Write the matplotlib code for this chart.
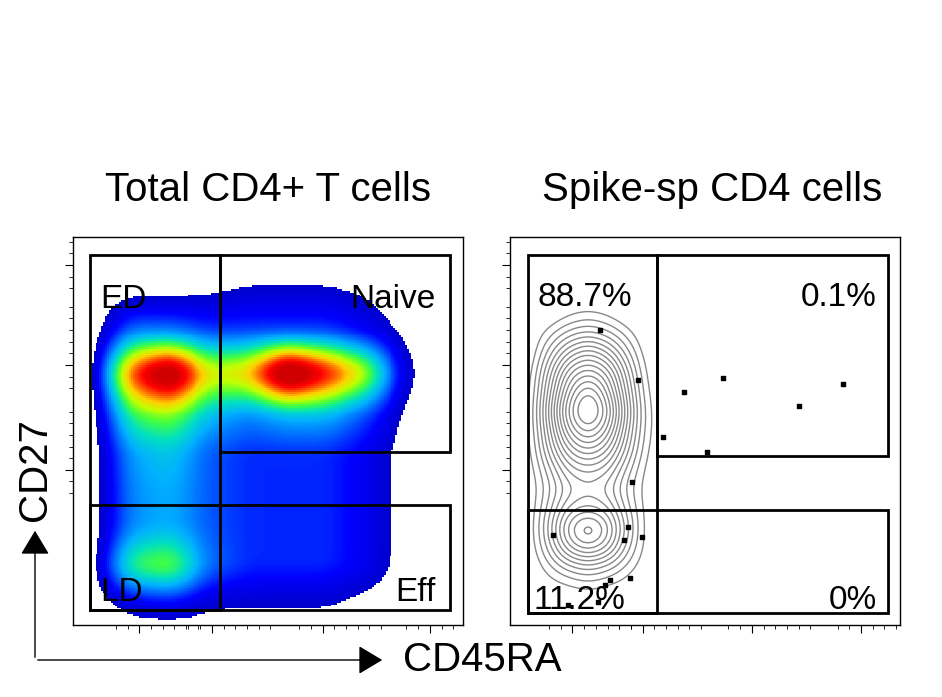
import numpy as np
import matplotlib
matplotlib.use("Agg")
import matplotlib.pyplot as plt
from matplotlib.patches import Rectangle, FancyArrowPatch
from matplotlib.colors import LinearSegmentedColormap

plt.rcParams["font.family"] = "Liberation Sans"

# Left panel: estimated density levels (rows top->bottom, y 95..5; cols x 5..95)
left_density = np.array([
    [0, 0, 0, 0, 0, 0, 0, 0, 0, 0],
    [0, 0.3, 0.3, 0.4, 0.6, 0.6, 0.6, 0.4, 0, 0],
    [0, 2, 2, 1.5, 1.5, 1.5, 1.5, 1, 0.3, 0],
    [0, 6, 8, 4.5, 5, 8.5, 6.5, 4.5, 0.6, 0],
    [0, 3.5, 4, 2.5, 2, 2.5, 2.5, 1.6, 0.3, 0],
    [0, 2.2, 2.6, 1.6, 1.3, 1.3, 1.3, 0.9, 0.2, 0],
    [0, 2, 2.3, 1.6, 1.3, 1.3, 1.3, 0.9, 0.2, 0],
    [0, 2, 2.3, 1.6, 1.3, 1.3, 1.3, 0.9, 0.2, 0],
    [0, 3.5, 4, 1.8, 1.3, 1.3, 1.3, 0.9, 0.2, 0],
    [0, 0.5, 0.7, 0.4, 0.4, 0.4, 0.4, 0.2, 0, 0],
])
left_cx = [5, 15, 25, 35, 45, 55, 65, 75, 85, 95]
left_cy = [95, 85, 75, 65, 55, 45, 35, 25, 15, 5]

# Right panel: estimated contour density (rows y 90..0 step 5; cols x 0..45 step 5)
right_x = [0, 5, 10, 15, 20, 25, 30, 35, 40, 45]
right_y = [90, 85, 80, 75, 70, 65, 60, 55, 50, 45, 40, 35, 30, 25, 20, 15, 10, 5, 0]
right_density = np.array([
    [0, 0, 0, 0, 0, 0, 0, 0, 0, 0],
    [0, 0, 0, 0, 0, 0, 0, 0, 0, 0],
    [0, 0, 0, 0.5, 0.8, 0.5, 0, 0, 0, 0],
    [0, 0, 1, 2, 2.5, 2, 1, 0, 0, 0],
    [0, 0, 2, 4, 5, 4, 2, 0.2, 0, 0],
    [0, 0.2, 3, 6, 7, 6, 3, 0.4, 0, 0],
    [0, 0.3, 3.5, 7, 9, 7, 3.5, 0.6, 0, 0],
    [0, 0.4, 4, 8, 10, 8, 4, 0.8, 0, 0],
    [0, 0.4, 3.5, 7, 8.5, 7, 3.5, 0.8, 0, 0],
    [0, 0.3, 3, 5.5, 6.5, 5.5, 3, 0.6, 0, 0],
    [0, 0.2, 2, 4, 4.5, 4, 2, 0.4, 0, 0],
    [0, 0.1, 1.5, 3, 3.5, 3, 1.5, 0.3, 0, 0],
    [0, 0.1, 2, 4, 4.5, 4, 2, 0.3, 0, 0],
    [0, 0.1, 2.5, 5.5, 7, 5.5, 2.5, 0.3, 0, 0],
    [0, 0.1, 2, 4.5, 5.5, 4.5, 2, 0.3, 0, 0],
    [0, 0, 1, 2, 2.5, 2, 1, 0.2, 0, 0],
    [0, 0, 0.3, 0.5, 0.8, 0.5, 0.3, 0, 0, 0],
    [0, 0, 0, 0, 0, 0, 0, 0, 0, 0],
    [0, 0, 0, 0, 0, 0, 0, 0, 0, 0],
])

outlier_x = [23.1, 32.8, 44.6, 54.6, 74.1, 85.4, 39.2, 50.5, 31.3, 30.3, 33.8, 29.2, 11.0, 30.8, 25.6, 24.4, 14.9, 22.6]
outlier_y = [76.0, 63.1, 60.1, 63.7, 56.4, 62.1, 48.5, 44.6, 36.9, 25.3, 22.7, 21.9, 23.2, 12.1, 11.6, 10.3, 5.2, 5.9]

titles = ["Total CD4+ T cells", "Spike-sp CD4 cells"]
left_labels = [("ED", 7, 84, "left"), ("Naive", 93, 84, "right"), ("LD", 7, 8.5, "left"), ("Eff", 93, 8.5, "right")]
right_labels = [("88.7%", 7, 84.5, "left"), ("0.1%", 94, 84.5, "right"), ("11.2%", 6, 6.4, "left"), ("0%", 94, 6.4, "right")]


def upsample(z, xs, ys, nx, ny, x0, x1, y0, y1):
    xs = np.asarray(xs, float); ys = np.asarray(ys, float)
    order = np.argsort(ys)
    z = np.asarray(z, float)[order]; ys = ys[order]
    gx = np.linspace(x0, x1, nx); gy = np.linspace(y0, y1, ny)
    tmp = np.array([np.interp(gx, xs, row) for row in z])
    out = np.array([np.interp(gy, ys, tmp[:, j]) for j in range(nx)]).T
    k = np.ones(9) / 9
    for _ in range(3):
        out = np.apply_along_axis(lambda r: np.convolve(r, k, mode="same"), 1, out)
        out = np.apply_along_axis(lambda c: np.convolve(c, k, mode="same"), 0, out)
    return gx, gy, out


fig = plt.figure(figsize=(9.42, 6.97), dpi=100)
axL = fig.add_axes([73/942, 1-625/697, 390/942, 388/697])
axR = fig.add_axes([510/942, 1-625/697, 390/942, 388/697])


def style(ax, xmaj, ymaj):
    ax.set_xlim(0, 100); ax.set_ylim(0, 100)
    ax.set_xticks(xmaj); ax.set_yticks(ymaj)
    xmin = [v + d for v in xmaj for d in (-6, -3, 3, 6, 9, 12, 15) if 0 < v + d < 100]
    ymin = [v + d for v in ymaj for d in (-6, -3, 3, 6, 9, 12, 15) if 0 < v + d < 100]
    ax.set_xticks(xmin, minor=True); ax.set_yticks(ymin, minor=True)
    ax.tick_params(which="major", length=6, direction="out", labelbottom=False, labelleft=False)
    ax.tick_params(which="minor", length=3, direction="out")
    for s in ax.spines.values():
        s.set_linewidth(1)


cmap = LinearSegmentedColormap.from_list("fc", ["#0000cc", "#0000ff", "#0060ff", "#00b0ff", "#00e0c0", "#40ff40", "#c0ff00", "#ffd000", "#ff6000", "#ff0000", "#d00000"])
cmap.set_bad("white")
gx, gy, zl = upsample(left_density, left_cx, left_cy, 200, 200, 0, 100, 0, 100)
zl = np.ma.masked_less(zl, 0.45)
axL.pcolormesh(gx, gy, zl, cmap=cmap, vmin=0.45, vmax=6.5, shading="auto", zorder=1)
style(axL, [17, 35.6, 64, 91.5], [40, 67, 92.8])

for (x0, y0, x1, y1) in [(4.4, 3.9, 37.7, 95.4), (37.7, 44.6, 96.7, 95.4), (4.4, 3.9, 96.7, 30.9)]:
    axL.add_patch(Rectangle((x0, y0), x1-x0, y1-y0, fill=False, lw=2, ec="black", zorder=3))
for t, x, y, ha in left_labels:
    axL.text(x, y, t, fontsize=24, ha=ha, va="center", zorder=4)

rx, ry, zr = upsample(right_density, right_x, right_y, 120, 200, 0, 50, 0, 95)
axR.contour(rx, ry, zr, levels=np.linspace(0.7, 8.5, 16), colors="#888888", linewidths=1)
axR.scatter(outlier_x, outlier_y, marker="s", s=12, color="black", zorder=3)
style(axR, [16, 34, 62, 90], [40, 67, 92.8])
for (x0, y0, x1, y1) in [(4.6, 3.1, 37.7, 95.4), (37.7, 43.6, 96.9, 95.4), (4.6, 3.1, 96.9, 29.6)]:
    axR.add_patch(Rectangle((x0, y0), x1-x0, y1-y0, fill=False, lw=2, ec="black", zorder=3))
for t, x, y, ha in right_labels:
    axR.text(x, y, t, fontsize=24, ha=ha, va="center", zorder=4)

fig.text(268/942, 1-190/697, titles[0], fontsize=29, ha="center", va="center")
fig.text(712/942, 1-190/697, titles[1], fontsize=29, ha="center", va="center")
fig.text(482/942, 1-660/697, "CD45RA", fontsize=29, ha="center", va="center")
fig.text(35/942, 1-470/697, "CD27", fontsize=29, ha="center", va="center", rotation=90)

ox, oy = 35/942, 1-660/697
fig.add_artist(FancyArrowPatch((ox, oy), (385/942, oy), transform=fig.transFigure,
               arrowstyle="-|>,head_length=10,head_width=6", lw=1, color="black", mutation_scale=1.5))
fig.add_artist(FancyArrowPatch((ox, oy), (ox, 1-528/697), transform=fig.transFigure,
               arrowstyle="-|>,head_length=10,head_width=6", lw=1, color="black", mutation_scale=1.5))

fig.savefig("out.png", dpi=100, facecolor="white")
